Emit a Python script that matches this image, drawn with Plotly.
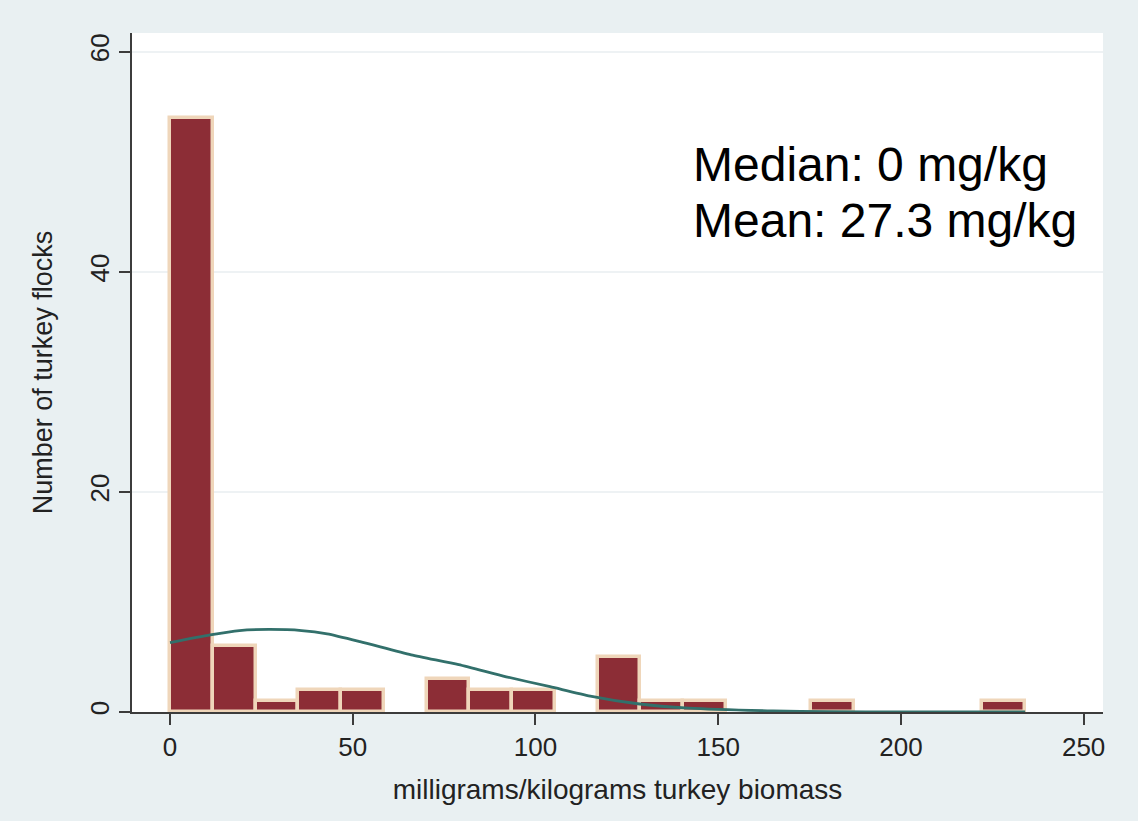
import numpy as np
import plotly.graph_objects as go

# Histogram of antimicrobial use per flock (20 equal bins, 0 to 234 mg/kg)
bin_edges_start = 0.0
bin_edges_end = 234.0
flock_counts = [54, 6, 1, 2, 2, 0, 3, 2, 2, 0, 5, 1, 1, 0, 0, 1, 0, 0, 0, 1]

# Normal density overlay, expressed in flock counts
curve_x = [0, 11, 19, 27, 36, 43, 52, 66, 79, 92, 104, 115, 128, 142, 165, 180, 200, 234]
curve_y = [6.3, 7.0, 7.4, 7.5, 7.4, 7.1, 6.4, 5.2, 4.3, 3.2, 2.3, 1.45, 0.75, 0.35, 0.1, 0.03, 0.01, 0.0]

x_ticks = [0, 50, 100, 150, 200, 250]
y_ticks = [0, 20, 40, 60]

stat_lines = ["Median: 0 mg/kg", "Mean: 27.3 mg/kg"]

FONT = "Liberation Sans, Arial, Helvetica, sans-serif"
BAR_FILL = "#8c2d36"
BAR_EDGE = "#efd6ba"
CURVE = "#32706b"
AXIS = "#3c3c3c"
OUTER_BG = "#e9f0f2"
TEXT = "#222222"

n_bins = len(flock_counts)
edges = np.linspace(bin_edges_start, bin_edges_end, n_bins + 1)
width = edges[1] - edges[0]
centers = (edges[:-1] + edges[1:]) / 2

# empty bins are left undrawn
bar_x = [c for c, n in zip(centers, flock_counts) if n > 0]
bar_y = [n for n in flock_counts if n > 0]

fig = go.Figure()
fig.add_trace(go.Bar(
    x=bar_x, y=bar_y, width=width,
    marker=dict(color=BAR_FILL, line=dict(color=BAR_EDGE, width=3.5)),
    hoverinfo="skip", showlegend=False,
))
fig.add_trace(go.Scatter(
    x=curve_x, y=curve_y, mode="lines",
    line=dict(color=CURVE, width=2.8, shape="spline", smoothing=0.6),
    hoverinfo="skip", showlegend=False,
))

ann_y = [0.8070, 0.7240]
for txt, yy in zip(stat_lines, ann_y):
    fig.add_annotation(
        text=txt, xref="paper", yref="paper", x=0.576, y=yy,
        xanchor="left", yanchor="middle", showarrow=False,
        font=dict(family=FONT, size=48, color="#000000"),
    )

fig.update_layout(
    width=1138, height=821,
    margin=dict(l=132, r=35, t=33, b=109),
    paper_bgcolor=OUTER_BG, plot_bgcolor="#ffffff",
    bargap=0,
    font=dict(family=FONT, size=26, color=TEXT),
)
fig.update_xaxes(
    range=[-10.4, 255.3], tickvals=x_ticks,
    ticks="outside", ticklen=11, tickwidth=2, tickcolor=AXIS,
    showline=True, linecolor=AXIS, linewidth=2,
    showgrid=False, zeroline=False,
    tickfont=dict(family=FONT, size=26, color=TEXT),
    title=dict(text="milligrams/kilograms turkey biomass",
               font=dict(family=FONT, size=28, color=TEXT), standoff=18),
)
fig.update_yaxes(
    range=[0, 61.7], tickvals=y_ticks, tickangle=-90,
    ticks="outside", ticklen=11, tickwidth=2, tickcolor=AXIS,
    showline=True, linecolor=AXIS, linewidth=2,
    showgrid=True, gridcolor="#eef2f4", gridwidth=1.5,
    zeroline=False,
    tickfont=dict(family=FONT, size=26, color=TEXT),
    title=dict(text="Number of turkey flocks",
               font=dict(family=FONT, size=27, color=TEXT), standoff=24),
)

fig.write_html("out.html")
